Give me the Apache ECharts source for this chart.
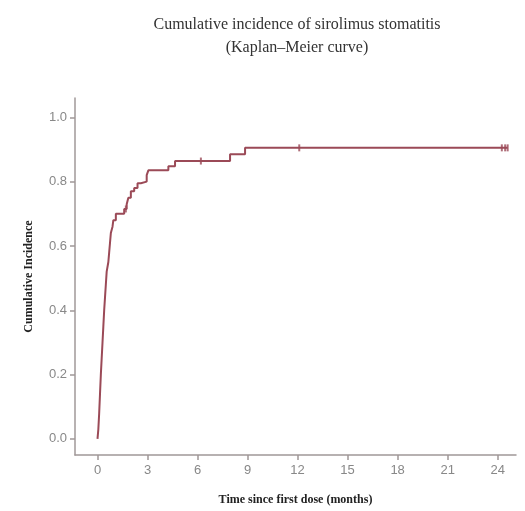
<!DOCTYPE html>
<html>
<head>
<meta charset="utf-8">
<script src="https://cdn.jsdelivr.net/npm/echarts@6/dist/echarts.min.js"></script>
<style>
  html, body { margin: 0; padding: 0; background: #fff; }
  #km { width: 525px; height: 511px; }
</style>
</head>
<body>
<div id="km"></div>
<script>
// step points of the Kaplan-Meier cumulative incidence curve (months, incidence)
var months = [0, 0.05, 0.1, 0.15, 0.2, 0.25, 0.3, 0.35, 0.4, 0.45, 0.5, 0.55, 0.65, 0.7, 0.75, 0.8, 0.9, 0.95,
    1.1, 1.6, 1.75, 1.85, 2.0, 2.2, 2.4, 2.6, 2.95, 3.05, 4.25, 4.65, 7.95, 8.85, 24.6];
var incidence = [0, 0.03, 0.08, 0.14, 0.2, 0.25, 0.3, 0.35, 0.4, 0.44, 0.48, 0.52, 0.55, 0.58, 0.61, 0.64, 0.66, 0.68,
    0.70, 0.715, 0.73, 0.75, 0.77, 0.78, 0.795, 0.80, 0.82, 0.835, 0.848, 0.864, 0.885, 0.905, 0.905];
// censored observations
var censorMonths = [1.7, 6.2, 12.1, 24.25, 24.45, 24.6];
var censorValues = [0.715, 0.864, 0.905, 0.905, 0.905, 0.905];
var xTicks = [0, 3, 6, 9, 12, 15, 18, 21, 24];
var yTicks = [0, 0.2, 0.4, 0.6, 0.8, 1.0];

function km() {
    var myChart = echarts.init(document.getElementById('km'));
    var lineColor = '#9b4a57';
    var axisColor = '#a09898';

    var curve = months.map(function (t, i) { return [t, incidence[i]]; });
    var censored = censorMonths.map(function (t, i) { return [t, censorValues[i]]; });

    var option = {
        animation: false,
        title: {
            text: 'Cumulative incidence of sirolimus stomatitis\n(Kaplan\u2013Meier curve)',
            left: 292,
            top: 8,
            textAlign: 'center',
            textStyle: {
                fontFamily: 'Liberation Serif',
                fontSize: 16,
                fontWeight: 'normal',
                color: '#333',
                lineHeight: 23
            }
        },
        grid: {
            left: 75,
            right: 9,
            top: 98,
            bottom: 55
        },
        xAxis: {
            type: 'value',
            min: -1.35,
            max: 25.1,
            name: 'Time since first dose (months)',
            nameLocation: 'middle',
            nameGap: 39,
            nameTextStyle: {
                fontFamily: 'Liberation Serif',
                fontWeight: 'bold',
                fontSize: 12,
                color: '#222'
            },
            splitLine: {show: false},
            axisLine: {onZero: false, lineStyle: {color: axisColor, width: 1.5}},
            axisTick: {
                customValues: xTicks,
                length: 5,
                lineStyle: {color: axisColor, width: 1.5}
            },
            axisLabel: {
                customValues: xTicks,
                color: '#888',
                fontFamily: 'Liberation Sans',
                fontSize: 13,
                margin: 9
            }
        },
        yAxis: {
            type: 'value',
            min: -0.05,
            max: 1.06,
            name: 'Cumulative Incidence',
            nameLocation: 'middle',
            nameRotate: 90,
            nameGap: 40,
            nameTextStyle: {
                fontFamily: 'Liberation Serif',
                fontWeight: 'bold',
                fontSize: 12,
                color: '#222'
            },
            splitLine: {show: false},
            axisLine: {show: true, onZero: false, lineStyle: {color: axisColor, width: 1.5}},
            axisTick: {
                show: true,
                customValues: yTicks,
                length: 5,
                lineStyle: {color: axisColor, width: 1.5}
            },
            axisLabel: {
                customValues: yTicks,
                color: '#888',
                fontFamily: 'Liberation Sans',
                fontSize: 13,
                margin: 8,
                formatter: function (v) { return v.toFixed(1); }
            }
        },
        series: [
            {
                type: 'line',
                step: 'end',
                data: curve,
                showSymbol: false,
                lineStyle: {color: lineColor, width: 2}
            },
            {
                type: 'scatter',
                data: censored,
                symbol: 'rect',
                symbolSize: [2, 7],
                itemStyle: {color: lineColor}
            }
        ]
    };

    myChart.setOption(option);
}
km();
</script>
</body>
</html>
